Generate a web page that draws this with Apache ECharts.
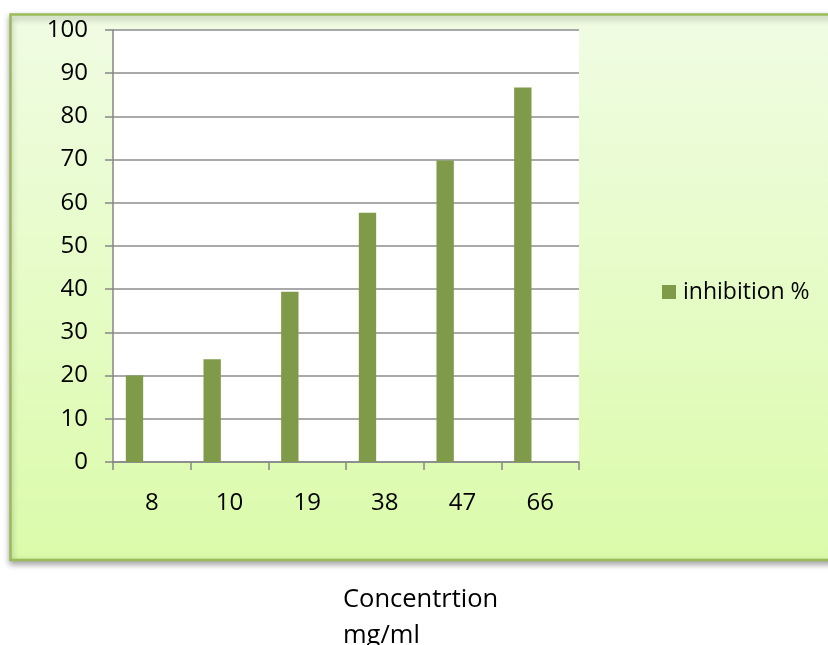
<!DOCTYPE html>
<html>
<head>
<meta charset="utf-8">
<script src="https://cdn.jsdelivr.net/npm/echarts@6/dist/echarts.min.js"></script>
<style>
html,body{margin:0;padding:0;background:#fff;}
#main{width:828px;height:645px;}
</style>
</head>
<body>
<div id="main"></div>
<script>
const categories = ['8', '10', '19', '38', '47', '66'];
const inhibition = [20, 23.8, 39.4, 57.7, 69.8, 86.7];
const seriesName = 'inhibition %';
const axisTitle = 'Concentrtion\nmg/ml';
const yMin = 0, yMax = 100, yStep = 10;

const FONT = 'Open Sans';
const chart = echarts.init(document.getElementById('main'));
chart.setOption({
  animation: false,
  backgroundColor: '#ffffff',
  graphic: [{
    type: 'rect',
    z: -10,
    shape: { x: 10.5, y: 14.5, width: 840, height: 545.5 },
    style: {
      fill: {
        type: 'linear', x: 0, y: 0, x2: 0, y2: 1,
        colorStops: [{ offset: 0, color: '#F0FCE3' }, { offset: 1, color: '#DBFBAA' }]
      },
      stroke: '#9BBB59',
      lineWidth: 2.5,
      shadowBlur: 6,
      shadowOffsetX: 0,
      shadowOffsetY: 3,
      shadowColor: 'rgba(0,0,0,0.35)'
    }
  }],
  grid: {
    left: 113, right: 249, top: 30, bottom: 183,
    outerBoundsMode: 'none',
    containLabel: false,
    show: true, backgroundColor: '#ffffff', borderWidth: 0
  },
  legend: {
    data: [seriesName],
    left: 662, top: 280, padding: 0,
    icon: 'rect', itemWidth: 14, itemHeight: 14,
    textStyle: { fontFamily: FONT, fontSize: 23, color: '#000', lineHeight: 24, padding: [0, 0, 0, 2] }
  },
  xAxis: {
    type: 'category',
    data: categories,
    boundaryGap: true,
    name: axisTitle,
    nameLocation: 'middle',
    nameGap: 120,
    nameTextStyle: { fontFamily: FONT, fontSize: 25.5, color: '#000', align: 'left', verticalAlign: 'top', lineHeight: 36, padding: [0, 0, 0, -3] },
    axisLine: { lineStyle: { color: '#868686', width: 1.5 } },
    axisTick: { show: true, inside: false, length: 8, lineStyle: { color: '#868686', width: 1.5 } },
    axisLabel: { fontFamily: FONT, fontSize: 24, color: '#000', margin: 29 }
  },
  yAxis: {
    type: 'value',
    min: yMin, max: yMax, interval: yStep,
    axisLine: { show: true, lineStyle: { color: '#868686', width: 1.5 } },
    axisTick: { show: true, inside: false, length: 8, lineStyle: { color: '#868686', width: 1.5 } },
    axisLabel: { fontFamily: FONT, fontSize: 24, color: '#000', margin: 25 },
    splitLine: { show: true, lineStyle: { color: '#8C8C8C', width: 1.5 } }
  },
  series: [
    { name: seriesName, type: 'bar', data: inhibition, barGap: '0%', barCategoryGap: '33%',
      itemStyle: { color: '#7F9A48' } },
    { name: '_empty1', type: 'bar', data: categories.map(() => null), barGap: '0%', barCategoryGap: '33%' },
    { name: '_empty2', type: 'bar', data: categories.map(() => null), barGap: '0%', barCategoryGap: '33%' }
  ]
});
</script>
</body>
</html>
